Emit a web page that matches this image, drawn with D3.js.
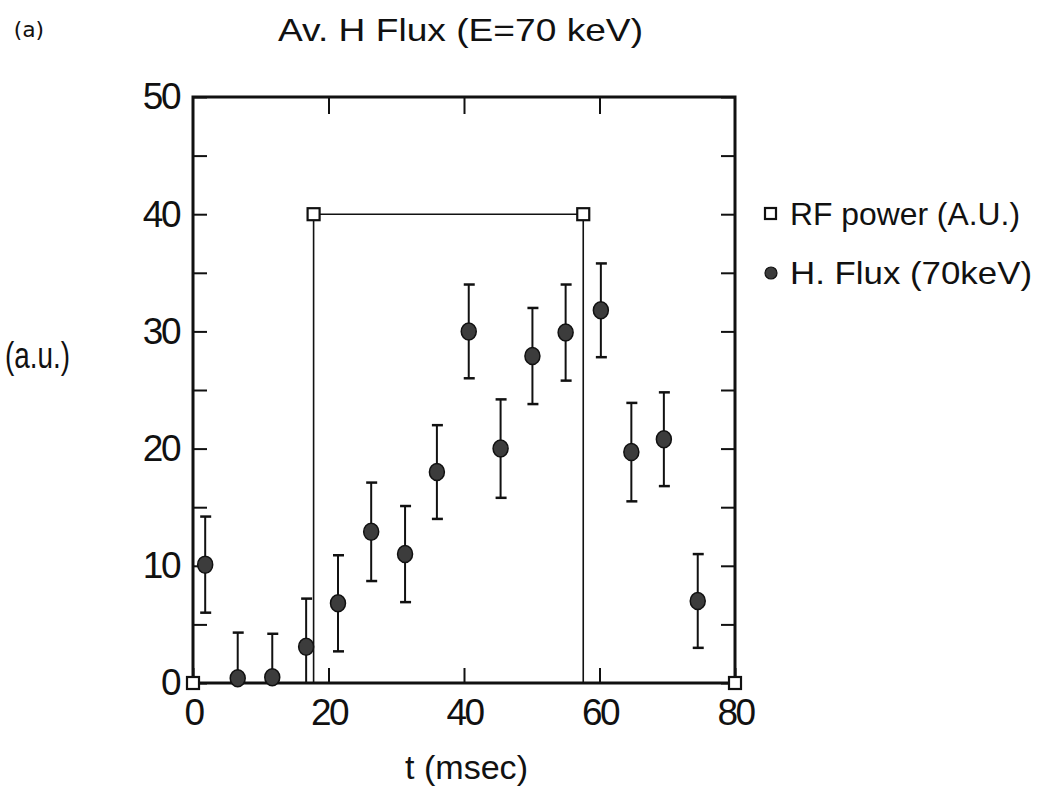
<!DOCTYPE html>
<meta charset="utf-8">
<style>
body { margin: 0; background: #fff; }
svg text { font-family: "Liberation Sans", Arial, sans-serif; fill: #111; }
.axis path { display: none; }
.axis line { stroke: #111; stroke-width: 2; }
.axis text { font-size: 37px; letter-spacing: -2.5px; }
</style>
<svg width="1042" height="791"></svg>
<script src="https://d3js.org/d3.v7.min.js"></script>
<script>

// H flux (70 keV) with error bars
var fluxT   = [1.8, 6.6, 11.7, 16.7, 21.4, 26.3, 31.3, 36.0, 40.7, 45.4, 50.1, 55.0, 60.2, 64.7, 69.5, 74.5];
var fluxV   = [10.1, 0.4, 0.5, 3.1, 6.8, 12.9, 11.0, 18.0, 30.0, 20.0, 27.9, 29.9, 31.8, 19.7, 20.8, 7.0];
var fluxErr = [4.1, 3.9, 3.7, 4.1, 4.1, 4.2, 4.1, 4.0, 4.0, 4.2, 4.1, 4.1, 4.0, 4.2, 4.0, 4.0];

// RF power (arb. units)
var rfT = [0, 17.8, 57.6, 80];
var rfP = [0, 40, 40, 0];

var yTicks = [0, 5, 10, 15, 20, 25, 30, 35, 40, 45, 50];
var xTicks = [0, 20, 40, 60, 80];

var svg = d3.select("svg");

var x = d3.scaleLinear().domain([0, 80]).range([193, 735]);
var y = d3.scaleLinear().domain([0, 50]).range([683, 97]);

// frame
svg.append("rect")
    .attr("x", x(0)).attr("y", y(50))
    .attr("width", x(80) - x(0)).attr("height", y(0) - y(50))
    .attr("fill", "none").attr("stroke", "#111").attr("stroke-width", 3);

// axes, ticks pointing inward
svg.append("g").attr("class", "axis")
    .attr("transform", "translate(" + x(0) + ",0)")
    .call(d3.axisLeft(y).tickValues(yTicks).tickSize(-14).tickPadding(14)
      .tickFormat(function(d) { return d % 10 === 0 ? d : ""; }));

svg.append("g").attr("class", "axis")
    .attr("transform", "translate(" + x(80) + ",0)")
    .call(d3.axisRight(y).tickValues(yTicks).tickSize(-14).tickFormat(""));

svg.append("g").attr("class", "axis")
    .attr("transform", "translate(0," + y(0) + ")")
    .call(d3.axisBottom(x).tickValues(xTicks).tickSize(-15).tickPadding(16));

svg.append("g").attr("class", "axis")
    .attr("transform", "translate(0," + y(50) + ")")
    .call(d3.axisTop(x).tickValues(xTicks.slice(1, 4)).tickSize(-17).tickFormat(""));

// RF power step trace: the step sits at the x of the higher point
var rfPts = [[rfT[0], rfP[0]]];
for (var i = 1; i < rfT.length; i++) {
  if (rfP[i] > rfP[i - 1]) {
    rfPts.push([rfT[i], rfP[i - 1]]);
  } else if (rfP[i] < rfP[i - 1]) {
    rfPts.push([rfT[i - 1], rfP[i]]);
  }
  rfPts.push([rfT[i], rfP[i]]);
}
svg.append("path")
    .attr("d", d3.line().x(function(d) { return x(d[0]); }).y(function(d) { return y(d[1]); })(rfPts))
    .attr("fill", "none").attr("stroke", "#111").attr("stroke-width", 1.6);

svg.selectAll(".rf").data(rfT).enter().append("rect")
    .attr("class", "rf")
    .attr("x", function(d) { return x(d) - 6; })
    .attr("y", function(d, i) { return y(rfP[i]) - 6; })
    .attr("width", 12).attr("height", 12)
    .attr("fill", "#fff").attr("stroke", "#111").attr("stroke-width", 2.2);

// error bars
var bars = fluxT.map(function(t, i) {
  return { t: t, lo: Math.max(0, fluxV[i] - fluxErr[i]), hi: fluxV[i] + fluxErr[i] };
});
var eb = svg.selectAll(".eb").data(bars).enter().append("g").attr("class", "eb");
eb.append("line")
    .attr("x1", function(d) { return x(d.t); }).attr("x2", function(d) { return x(d.t); })
    .attr("y1", function(d) { return y(d.lo); })
    .attr("y2", function(d) { return y(d.hi); })
    .attr("stroke", "#111").attr("stroke-width", 2);
eb.append("line")
    .attr("x1", function(d) { return x(d.t) - 5; }).attr("x2", function(d) { return x(d.t) + 6; })
    .attr("y1", function(d) { return y(d.hi); }).attr("y2", function(d) { return y(d.hi); })
    .attr("stroke", "#111").attr("stroke-width", 2.5);
eb.filter(function(d) { return d.lo > 0; }).append("line")
    .attr("x1", function(d) { return x(d.t) - 5; }).attr("x2", function(d) { return x(d.t) + 6; })
    .attr("y1", function(d) { return y(d.lo); }).attr("y2", function(d) { return y(d.lo); })
    .attr("stroke", "#111").attr("stroke-width", 2.5);

svg.selectAll(".pt").data(fluxT).enter().append("ellipse")
    .attr("class", "pt")
    .attr("cx", function(d) { return x(d); })
    .attr("cy", function(d, i) { return y(fluxV[i]); })
    .attr("rx", 7.5).attr("ry", 8.5)
    .attr("fill", "#3c3c3c").attr("stroke", "#111").attr("stroke-width", 1.5);

// texts
svg.append("text").attr("x", 11).attr("y", 37)
    .style("font-family", "'DejaVu Sans Mono', 'Liberation Mono', monospace")
    .style("font-size", "22px").style("letter-spacing", "-2px").text("(a)");

svg.append("text").attr("x", 278).attr("y", 41)
    .attr("textLength", 365).attr("lengthAdjust", "spacingAndGlyphs")
    .style("font-size", "32px").text("Av. H Flux (E=70 keV)");

svg.append("text").attr("x", 5).attr("y", 368)
    .attr("textLength", 65).attr("lengthAdjust", "spacingAndGlyphs")
    .style("font-size", "36px").text("(a.u.)");

svg.append("text").attr("x", 405).attr("y", 779)
    .attr("textLength", 123).attr("lengthAdjust", "spacingAndGlyphs")
    .style("font-size", "34px").text("t (msec)");

// legend
svg.append("rect").attr("x", 765).attr("y", 208).attr("width", 11).attr("height", 11)
    .attr("fill", "#fff").attr("stroke", "#111").attr("stroke-width", 2.2);
svg.append("text").attr("x", 790).attr("y", 225)
    .attr("textLength", 230).attr("lengthAdjust", "spacingAndGlyphs")
    .style("font-size", "32px").text("RF power (A.U.)");

svg.append("circle").attr("cx", 771).attr("cy", 273).attr("r", 6)
    .attr("fill", "#3c3c3c").attr("stroke", "#111").attr("stroke-width", 1.2);
svg.append("text").attr("x", 790).attr("y", 284)
    .attr("textLength", 242).attr("lengthAdjust", "spacingAndGlyphs")
    .style("font-size", "32px").text("H. Flux (70keV)");

</script>
